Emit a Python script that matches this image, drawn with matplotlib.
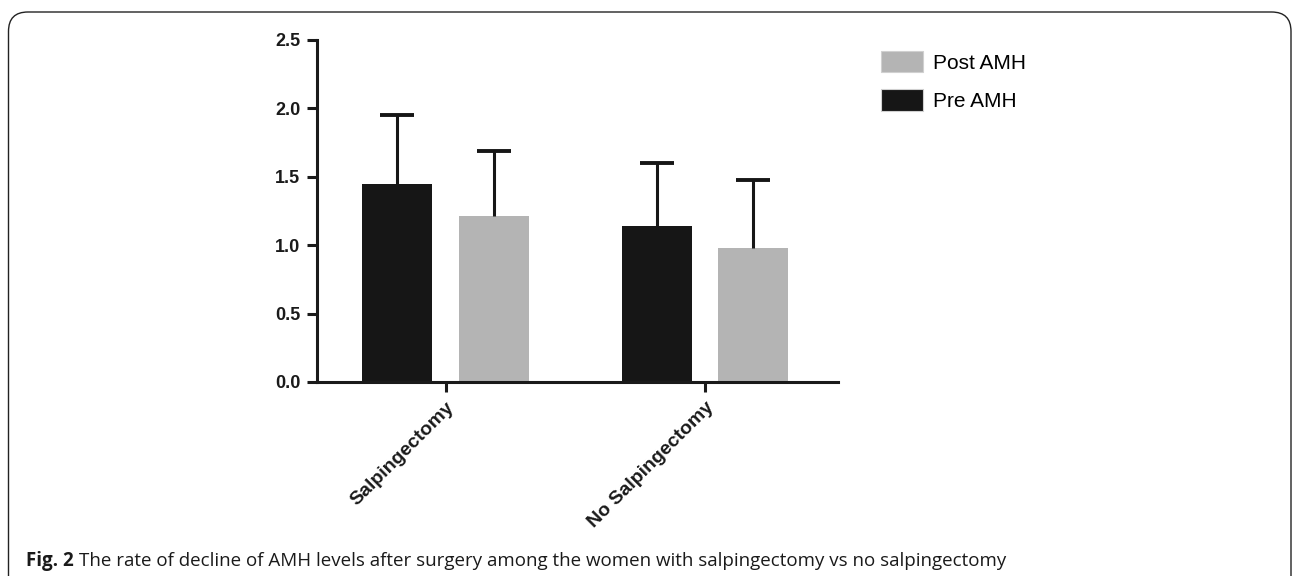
import matplotlib.pyplot as plt
import numpy as np
from matplotlib.patches import FancyBboxPatch

groups = ['Salpingectomy', 'No Salpingectomy']
pre_amh = [1.45, 1.14]
pre_sd = [0.50, 0.46]
post_amh = [1.21, 0.98]
post_sd = [0.48, 0.50]

black = '#161616'
gray = '#b4b4b4'
W, H = 1292, 576

fig = plt.figure(figsize=(W / 100, H / 100), dpi=100)
ax = fig.add_axes([317 / W, 1 - 382 / H, (838 - 317) / W, (382 - 40) / H])

x = np.arange(len(groups))
w = 0.27
off = 0.186
ax.bar(x - off, pre_amh, w, color=black, label='Pre AMH', zorder=2)
ax.bar(x + off, post_amh, w, color=gray, label='Post AMH', zorder=2)
ekw = dict(fmt='none', ecolor=black, elinewidth=2.2, capsize=12, capthick=2.8, zorder=3)
for xs, ys, sd in [(x - off, pre_amh, pre_sd), (x + off, post_amh, post_sd)]:
    eb = ax.errorbar(xs, ys, yerr=[np.zeros(len(sd)), sd], **ekw)
    eb[1][0].set_visible(False)  # only upper caps

ax.set_xlim(-0.496, 1.513)
ax.set_ylim(0, 2.5)
yt = np.arange(0, 2.51, 0.5)
ax.set_yticks(yt)
ax.set_yticklabels([f'{v:.1f}' for v in yt])
ax.set_xticks(x)
ax.set_xticklabels(groups, rotation=45, ha='right', rotation_mode='anchor')
for s in ['top', 'right']:
    ax.spines[s].set_visible(False)
for s in ['left', 'bottom']:
    ax.spines[s].set_linewidth(2.2)
    ax.spines[s].set_color('#1a1a1a')
ax.tick_params(width=2.2, length=7.5, color='#1a1a1a', pad=4.5)
for lab in ax.get_yticklabels():
    lab.set_fontsize(13)
for lab in ax.get_xticklabels():
    lab.set_fontsize(14)
for lab in ax.get_xticklabels() + ax.get_yticklabels():
    lab.set_fontfamily('Liberation Sans')
    lab.set_fontweight('bold')
    lab.set_color('#1a1a1a')

handles = [
    plt.Rectangle((0, 0), 1, 1, facecolor=gray, edgecolor='#d0d0d0', linewidth=0.8),
    plt.Rectangle((0, 0), 1, 1, facecolor=black, edgecolor='#d0d0d0', linewidth=0.8),
]
fig.legend(handles, ['Post AMH', 'Pre AMH'], loc='upper left',
           bbox_to_anchor=(881 / W, 1 - 51 / H), frameon=False,
           prop={'family': 'Liberation Sans', 'size': 15},
           borderpad=0, borderaxespad=0,
           handlelength=2.0, handleheight=1.2, handletextpad=0.5, labelspacing=0.8)

# page frame
frame = FancyBboxPatch((8.5 / W, -0.2), (1291 - 8.5) / W, 1.2 - 12 / H,
                       boxstyle='round,pad=0,rounding_size=0.015',
                       transform=fig.transFigure, fill=False,
                       edgecolor='#222222', linewidth=1.0, mutation_aspect=W / H)
fig.patches.append(frame)

cap_font = 'Open Sans'
cap_text = ('The rate of decline of AMH levels after surgery among the women '
            'with salpingectomy vs no salpingectomy')
fs = 12.5
cap_bold = fig.text(26 / W, 1 - 566 / H, 'Fig. 2', fontsize=fs, va='baseline',
                    ha='left', family=cap_font, fontweight='bold', color='#1a1a1a')
cap = fig.text(0, 1 - 566 / H, cap_text, fontsize=fs, va='baseline', ha='left',
               family=cap_font, color='#1a1a1a')
r = fig.canvas.get_renderer()
for _ in range(3):
    bb = cap_bold.get_window_extent(r)
    cap.set_x((bb.x1 + 5) / W)
    end = cap.get_window_extent(r).x1
    fs *= (1010 - 26) / (end - 26)
    cap_bold.set_fontsize(fs)
    cap.set_fontsize(fs)
bb = cap_bold.get_window_extent(r)
cap.set_x((bb.x1 + 5) / W)

fig.savefig('out.png', dpi=100)
